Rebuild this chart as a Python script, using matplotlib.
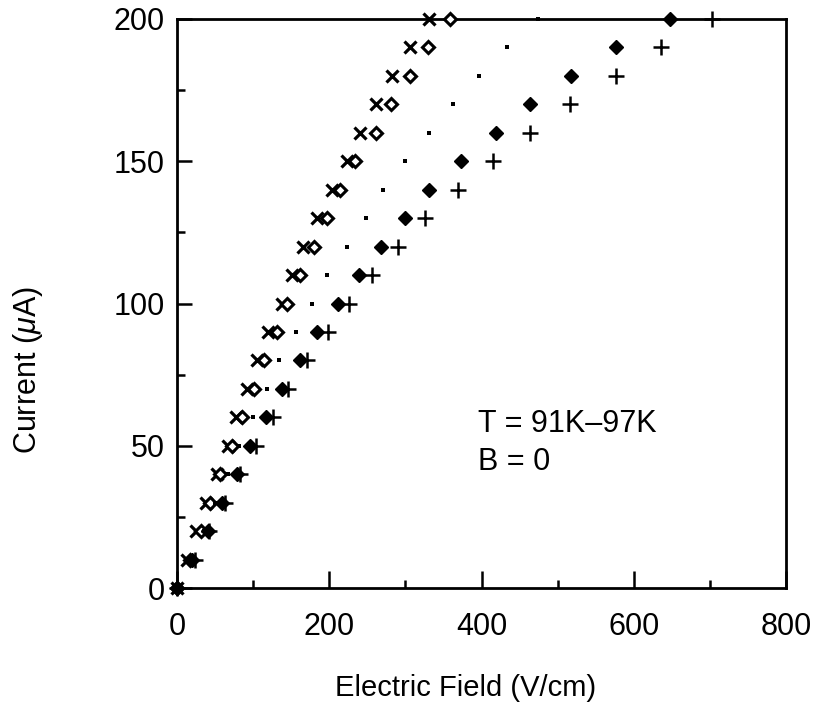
import numpy as np
import matplotlib
matplotlib.use("Agg")
import matplotlib.pyplot as plt
from matplotlib.ticker import MultipleLocator

plt.rcParams['font.family'] = ['Liberation Sans', 'DejaVu Sans']
plt.rcParams['mathtext.fontset'] = 'custom'
plt.rcParams['mathtext.rm'] = 'Liberation Sans'
plt.rcParams['mathtext.it'] = 'Liberation Sans:italic'

# current (uA), common to all runs
current = [0, 10, 20, 30, 40, 50, 60, 70, 80, 90, 100,
           110, 120, 130, 140, 150, 160, 170, 180, 190, 200]

# electric field (V/cm), one list per run
field_x = [0, 13, 25, 38, 53, 67, 78, 92, 105, 120, 138,
           151, 166, 184, 204, 223, 240, 261, 283, 306, 331]
field_open = [0, 17, 32, 43, 57, 72, 85, 101, 114, 131, 145,
              162, 180, 197, 214, 234, 261, 281, 306, 330, 359]
field_dot = [0, 18, 35, 50, 67, 81, 100, 118, 134, 156, 177,
             197, 223, 248, 271, 300, 331, 363, 397, 434, 474]
field_fill = [0, 20, 41, 59, 79, 96, 117, 138, 162, 184, 212,
              239, 268, 300, 331, 373, 419, 464, 518, 577, 647]
field_plus = [0, 24, 42, 63, 83, 104, 126, 146, 171, 198, 226,
              256, 290, 326, 369, 415, 464, 516, 577, 636, 703]

fig = plt.figure(figsize=(8.17, 7.08), dpi=100)
ax = fig.add_axes([177/817, 1-588/708, (786-177)/817, (588-19)/708])

ax.plot(field_x, current, ls='none', marker='x', ms=9, mew=2.3, color='black', clip_on=False, zorder=3)
ax.plot(field_open, current, ls='none', marker='D', ms=5.8, mew=2.2, mfc='white', mec='black', clip_on=False, zorder=4)
ax.plot(field_dot, current, ls='none', marker='s', ms=2.6, mew=0, color='black', clip_on=False, zorder=5)
ax.plot(field_fill, current, ls='none', marker='D', ms=7.5, mew=1, color='black', clip_on=False, zorder=6)
ax.plot(field_plus, current, ls='none', marker='+', ms=11, mew=1.8, color='black', clip_on=False, zorder=7)

ax.set_xlim(0, 800)
ax.set_ylim(0, 200)
ax.xaxis.set_major_locator(MultipleLocator(200))
ax.xaxis.set_minor_locator(MultipleLocator(100))
ax.yaxis.set_major_locator(MultipleLocator(50))
ax.yaxis.set_minor_locator(MultipleLocator(25))
ax.tick_params(which='both', direction='in', top=False, right=False, width=1.8, labelsize=22)
ax.tick_params(axis='x', which='major', length=12, pad=17)
ax.tick_params(axis='y', which='major', length=11, pad=9)
ax.tick_params(which='minor', length=6)
for s in ax.spines.values():
    s.set_linewidth(2)

ax.text(395, 55, "T = 91K\u201397K", fontsize=22, ha='left', va='baseline')
ax.text(395, 41.5, "B = 0", fontsize=22, ha='left', va='baseline')

fig.text(466/817, 1-688/708, "Electric Field (V/cm)", fontsize=21, ha='center', va='center')
fig.text(28/817, 1-370/708, "Current ($\\mathit{\\mu}$A)", fontsize=22, ha='center', va='center', rotation=90)

fig.savefig("out.png", dpi=100)
